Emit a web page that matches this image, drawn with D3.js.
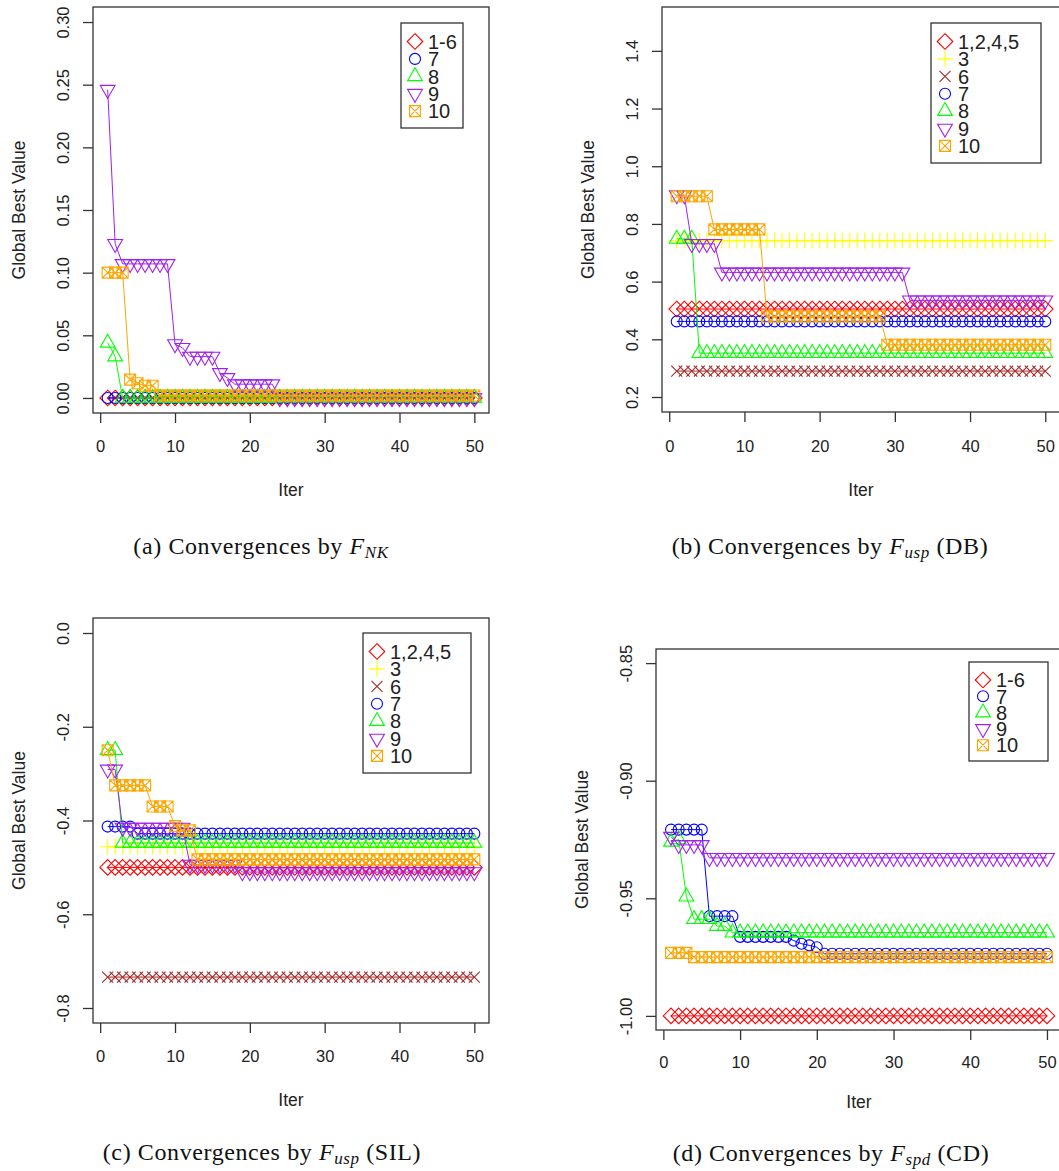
<!DOCTYPE html>
<html>
<head>
<meta charset="utf-8">
<script src="https://cdn.jsdelivr.net/npm/d3@7"></script>
<style>
  html, body { margin: 0; padding: 0; background: #fff; }
  svg { display: block; }
</style>
</head>
<body>
<svg id="fig" width="1059" height="1171"></svg>
<script>
// ---------------------------------------------------------------
// Data: global best value per iteration (1..50) for each strategy
// ---------------------------------------------------------------
const iters = d3.range(1, 51);
const xTicks = [0, 10, 20, 30, 40, 50];

// (a) F_NK
const nk_1to6 = [
  0,0,0,0,0,0,0,0,0,0, 0,0,0,0,0,0,0,0,0,0, 0,0,0,0,0,0,0,0,0,0,
  0,0,0,0,0,0,0,0,0,0, 0,0,0,0,0,0,0,0,0,0];
const nk_7 = [
  0,0,0,0,0,0,0,0,0,0, 0,0,0,0,0,0,0,0,0,0, 0,0,0,0,0,0,0,0,0,0,
  0,0,0,0,0,0,0,0,0,0, 0,0,0,0,0,0,0,0,0,0];
const nk_8 = [
  0.044,0.033,0,0,0,0,0,0,0,0, 0,0,0,0,0,0,0,0,0,0, 0,0,0,0,0,0,0,0,0,0,
  0,0,0,0,0,0,0,0,0,0, 0,0,0,0,0,0,0,0,0,0];
const nk_9 = [
  0.246,0.123,0.107,0.107,0.107,0.107,0.107,0.107,0.107,0.043,
  0.040,0.033,0.033,0.033,0.033,0.020,0.016,0.011,0.011,0.011,
  0.011,0.011,0.011,0,0,0,0,0,0,0,
  0,0,0,0,0,0,0,0,0,0, 0,0,0,0,0,0,0,0,0,0];
const nk_10 = [
  0.100,0.100,0.100,0.0146,0.0117,0.0098,0.0098,0.002,0.002,0.002,
  0.002,0.002,0.002,0.002,0.002,0.002,0.002,0.002,0.002,0.002,
  0.002,0.002,0.002,0.002,0.002,0.002,0.002,0.002,0.002,0.002,
  0.002,0.002,0.002,0.002,0.002,0.002,0.002,0.002,0.002,0.002,
  0.002,0.002,0.002,0.002,0.002,0.002,0.002,0.002,0.002,0.002];
const nkTicks = [0, 0.05, 0.10, 0.15, 0.20, 0.25, 0.30];

// (b) F_usp (DB)
const db_1245 = [
  0.505,0.505,0.505,0.505,0.505,0.505,0.505,0.505,0.505,0.505,
  0.505,0.505,0.505,0.505,0.505,0.505,0.505,0.505,0.505,0.505,
  0.505,0.505,0.505,0.505,0.505,0.505,0.505,0.505,0.505,0.505,
  0.505,0.505,0.505,0.505,0.505,0.505,0.505,0.505,0.505,0.505,
  0.505,0.505,0.505,0.505,0.505,0.505,0.505,0.505,0.505,0.505];
const db_3 = [
  0.742,0.742,0.742,0.742,0.742,0.742,0.742,0.742,0.742,0.742,
  0.742,0.742,0.742,0.742,0.742,0.742,0.742,0.742,0.742,0.742,
  0.742,0.742,0.742,0.742,0.742,0.742,0.742,0.742,0.742,0.742,
  0.742,0.742,0.742,0.742,0.742,0.742,0.742,0.742,0.742,0.742,
  0.742,0.742,0.742,0.742,0.742,0.742,0.742,0.742,0.742,0.742];
const db_6 = [
  0.290,0.290,0.290,0.290,0.290,0.290,0.290,0.290,0.290,0.290,
  0.290,0.290,0.290,0.290,0.290,0.290,0.290,0.290,0.290,0.290,
  0.290,0.290,0.290,0.290,0.290,0.290,0.290,0.290,0.290,0.290,
  0.290,0.290,0.290,0.290,0.290,0.290,0.290,0.290,0.290,0.290,
  0.290,0.290,0.290,0.290,0.290,0.290,0.290,0.290,0.290,0.290];
const db_7 = [
  0.462,0.462,0.462,0.462,0.462,0.462,0.462,0.462,0.462,0.462,
  0.462,0.462,0.462,0.462,0.462,0.462,0.462,0.462,0.462,0.462,
  0.462,0.462,0.462,0.462,0.462,0.462,0.462,0.462,0.462,0.462,
  0.462,0.462,0.462,0.462,0.462,0.462,0.462,0.462,0.462,0.462,
  0.462,0.462,0.462,0.462,0.462,0.462,0.462,0.462,0.462,0.462];
const db_8 = [
  0.748,0.748,0.748,0.352,0.352,0.352,0.352,0.352,0.352,0.352,
  0.352,0.352,0.352,0.352,0.352,0.352,0.352,0.352,0.352,0.352,
  0.352,0.352,0.352,0.352,0.352,0.352,0.352,0.352,0.352,0.352,
  0.352,0.352,0.352,0.352,0.352,0.352,0.352,0.352,0.352,0.352,
  0.352,0.352,0.352,0.352,0.352,0.352,0.352,0.352,0.352,0.352];
const db_9 = [
  0.900,0.900,0.731,0.731,0.731,0.731,0.632,0.632,0.632,0.632,
  0.632,0.632,0.632,0.632,0.632,0.632,0.632,0.632,0.632,0.632,
  0.632,0.632,0.632,0.632,0.632,0.632,0.632,0.632,0.632,0.632,
  0.632,0.535,0.535,0.535,0.535,0.535,0.535,0.535,0.535,0.535,
  0.535,0.535,0.535,0.535,0.535,0.535,0.535,0.535,0.535,0.535];
const db_10 = [
  0.896,0.896,0.896,0.896,0.896,0.781,0.781,0.781,0.781,0.781,
  0.781,0.781,0.479,0.479,0.479,0.479,0.479,0.479,0.479,0.479,
  0.479,0.479,0.479,0.479,0.479,0.479,0.479,0.479,0.381,0.381,
  0.381,0.381,0.381,0.381,0.381,0.381,0.381,0.381,0.381,0.381,
  0.381,0.381,0.381,0.381,0.381,0.381,0.381,0.381,0.381,0.381];
const dbTicks = [0.2, 0.4, 0.6, 0.8, 1.0, 1.2, 1.4];

// (c) F_usp (SIL)
const sil_1245 = [
  -0.500,-0.500,-0.500,-0.500,-0.500,-0.500,-0.500,-0.500,-0.500,-0.500,
  -0.500,-0.500,-0.500,-0.500,-0.500,-0.500,-0.500,-0.500,-0.500,-0.500,
  -0.500,-0.500,-0.500,-0.500,-0.500,-0.500,-0.500,-0.500,-0.500,-0.500,
  -0.500,-0.500,-0.500,-0.500,-0.500,-0.500,-0.500,-0.500,-0.500,-0.500,
  -0.500,-0.500,-0.500,-0.500,-0.500,-0.500,-0.500,-0.500,-0.500,-0.500];
const sil_3 = [
  -0.456,-0.456,-0.456,-0.456,-0.456,-0.456,-0.456,-0.456,-0.456,-0.456,
  -0.456,-0.456,-0.456,-0.456,-0.456,-0.456,-0.456,-0.456,-0.456,-0.456,
  -0.456,-0.456,-0.456,-0.456,-0.456,-0.456,-0.456,-0.456,-0.456,-0.456,
  -0.456,-0.456,-0.456,-0.456,-0.456,-0.456,-0.456,-0.456,-0.456,-0.456,
  -0.456,-0.456,-0.456,-0.456,-0.456,-0.456,-0.456,-0.456,-0.456,-0.456];
const sil_6 = [
  -0.734,-0.734,-0.734,-0.734,-0.734,-0.734,-0.734,-0.734,-0.734,-0.734,
  -0.734,-0.734,-0.734,-0.734,-0.734,-0.734,-0.734,-0.734,-0.734,-0.734,
  -0.734,-0.734,-0.734,-0.734,-0.734,-0.734,-0.734,-0.734,-0.734,-0.734,
  -0.734,-0.734,-0.734,-0.734,-0.734,-0.734,-0.734,-0.734,-0.734,-0.734,
  -0.734,-0.734,-0.734,-0.734,-0.734,-0.734,-0.734,-0.734,-0.734,-0.734];
const sil_7 = [
  -0.413,-0.413,-0.413,-0.413,-0.428,-0.428,-0.428,-0.428,-0.428,-0.428,
  -0.428,-0.428,-0.428,-0.428,-0.428,-0.428,-0.428,-0.428,-0.428,-0.428,
  -0.428,-0.428,-0.428,-0.428,-0.428,-0.428,-0.428,-0.428,-0.428,-0.428,
  -0.428,-0.428,-0.428,-0.428,-0.428,-0.428,-0.428,-0.428,-0.428,-0.428,
  -0.428,-0.428,-0.428,-0.428,-0.428,-0.428,-0.428,-0.428,-0.428,-0.428];
const sil_8 = [
  -0.250,-0.250,-0.448,-0.448,-0.448,-0.448,-0.448,-0.448,-0.448,-0.448,
  -0.448,-0.448,-0.448,-0.448,-0.448,-0.448,-0.448,-0.448,-0.448,-0.448,
  -0.448,-0.448,-0.448,-0.448,-0.448,-0.448,-0.448,-0.448,-0.448,-0.448,
  -0.448,-0.448,-0.448,-0.448,-0.448,-0.448,-0.448,-0.448,-0.448,-0.448,
  -0.448,-0.448,-0.448,-0.448,-0.448,-0.448,-0.448,-0.448,-0.448,-0.448];
const sil_9 = [
  -0.291,-0.291,-0.415,-0.415,-0.415,-0.415,-0.415,-0.415,-0.415,-0.415,
  -0.415,-0.494,-0.494,-0.494,-0.494,-0.494,-0.494,-0.494,-0.510,-0.510,
  -0.510,-0.510,-0.510,-0.510,-0.510,-0.510,-0.510,-0.510,-0.510,-0.510,
  -0.510,-0.510,-0.510,-0.510,-0.510,-0.510,-0.510,-0.510,-0.510,-0.510,
  -0.510,-0.510,-0.510,-0.510,-0.510,-0.510,-0.510,-0.510,-0.510,-0.510];
const sil_10 = [
  -0.250,-0.325,-0.325,-0.325,-0.325,-0.325,-0.370,-0.370,-0.370,-0.412,
  -0.421,-0.421,-0.483,-0.483,-0.483,-0.483,-0.483,-0.483,-0.483,-0.483,
  -0.483,-0.483,-0.483,-0.483,-0.483,-0.483,-0.483,-0.483,-0.483,-0.483,
  -0.483,-0.483,-0.483,-0.483,-0.483,-0.483,-0.483,-0.483,-0.483,-0.483,
  -0.483,-0.483,-0.483,-0.483,-0.483,-0.483,-0.483,-0.483,-0.483,-0.483];
const silTicks = [-0.8, -0.6, -0.4, -0.2, 0.0];

// (d) F_spd (CD)
const cd_1to6 = [
  -1.000,-1.000,-1.000,-1.000,-1.000,-1.000,-1.000,-1.000,-1.000,-1.000,
  -1.000,-1.000,-1.000,-1.000,-1.000,-1.000,-1.000,-1.000,-1.000,-1.000,
  -1.000,-1.000,-1.000,-1.000,-1.000,-1.000,-1.000,-1.000,-1.000,-1.000,
  -1.000,-1.000,-1.000,-1.000,-1.000,-1.000,-1.000,-1.000,-1.000,-1.000,
  -1.000,-1.000,-1.000,-1.000,-1.000,-1.000,-1.000,-1.000,-1.000,-1.000];
const cd_7 = [
  -0.9208,-0.9208,-0.9208,-0.9208,-0.9208,-0.9576,-0.9576,-0.9576,-0.9576,-0.9664,
  -0.9664,-0.9664,-0.9664,-0.9664,-0.9664,-0.9664,-0.9680,-0.9693,-0.9700,-0.9708,
  -0.9736,-0.9736,-0.9736,-0.9736,-0.9736,-0.9736,-0.9736,-0.9736,-0.9736,-0.9736,
  -0.9736,-0.9736,-0.9736,-0.9736,-0.9736,-0.9736,-0.9736,-0.9736,-0.9736,-0.9736,
  -0.9736,-0.9736,-0.9736,-0.9736,-0.9736,-0.9736,-0.9736,-0.9736,-0.9736,-0.9736];
const cd_8 = [
  -0.9260,-0.9250,-0.9493,-0.9589,-0.9589,-0.9589,-0.9618,-0.9618,-0.9646,-0.9646,
  -0.9646,-0.9646,-0.9646,-0.9646,-0.9646,-0.9646,-0.9646,-0.9646,-0.9646,-0.9646,
  -0.9646,-0.9646,-0.9646,-0.9646,-0.9646,-0.9646,-0.9646,-0.9646,-0.9646,-0.9646,
  -0.9646,-0.9646,-0.9646,-0.9646,-0.9646,-0.9646,-0.9646,-0.9646,-0.9646,-0.9646,
  -0.9646,-0.9646,-0.9646,-0.9646,-0.9646,-0.9646,-0.9646,-0.9646,-0.9646,-0.9646];
const cd_9 = [
  -0.9238,-0.9273,-0.9273,-0.9273,-0.9273,-0.9328,-0.9328,-0.9328,-0.9328,-0.9328,
  -0.9328,-0.9328,-0.9328,-0.9328,-0.9328,-0.9328,-0.9328,-0.9328,-0.9328,-0.9328,
  -0.9328,-0.9328,-0.9328,-0.9328,-0.9328,-0.9328,-0.9328,-0.9328,-0.9328,-0.9328,
  -0.9328,-0.9328,-0.9328,-0.9328,-0.9328,-0.9328,-0.9328,-0.9328,-0.9328,-0.9328,
  -0.9328,-0.9328,-0.9328,-0.9328,-0.9328,-0.9328,-0.9328,-0.9328,-0.9328,-0.9328];
const cd_10 = [
  -0.9732,-0.9732,-0.9732,-0.9750,-0.9750,-0.9750,-0.9750,-0.9750,-0.9750,-0.9750,
  -0.9750,-0.9750,-0.9750,-0.9750,-0.9750,-0.9750,-0.9750,-0.9750,-0.9750,-0.9750,
  -0.9750,-0.9750,-0.9750,-0.9750,-0.9750,-0.9750,-0.9750,-0.9750,-0.9750,-0.9750,
  -0.9750,-0.9750,-0.9750,-0.9750,-0.9750,-0.9750,-0.9750,-0.9750,-0.9750,-0.9750,
  -0.9750,-0.9750,-0.9750,-0.9750,-0.9750,-0.9750,-0.9750,-0.9750,-0.9750,-0.9750];
const cdTicks = [-1.00, -0.95, -0.90, -0.85];

// ---------------------------------------------------------------
// Styling: R-like colours and plotting symbols
// ---------------------------------------------------------------
const COL = {
  red: "#ff0000", yellow: "#ffff00", brown: "#a52a2a", blue: "#0000ff",
  green: "#00ff00", purple: "#a020f0", orange: "#ffa500"
};
const SYM = {
  diamond: "M0,-7.8L7.8,0L0,7.8L-7.8,0Z",
  plus: "M-7.8,0H7.8M0,-7.8V7.8",
  cross: "M-5.5,-5.5L5.5,5.5M-5.5,5.5L5.5,-5.5",
  circle: "M-5.5,0A5.5,5.5 0 1,0 5.5,0A5.5,5.5 0 1,0 -5.5,0Z",
  triUp: "M0,-8.6L7.4,4.3L-7.4,4.3Z",
  triDown: "M0,8.6L7.4,-4.3L-7.4,-4.3Z",
  boxX: "M-5.5,-5.5H5.5V5.5H-5.5ZM-5.5,-5.5L5.5,5.5M-5.5,5.5L5.5,-5.5"
};
const SANS = "'Liberation Sans', Arial, Helvetica, sans-serif";
const SERIF = "'Liberation Serif', 'Times New Roman', serif";
const INK = "#222";
const FRAME = "#333";

const s = (label, values, color, sym) => ({ label, values, color, sym });

const panels = [
  {
    box: { l: 93, t: 7, r: 489, b: 413 }, tickGap: 39, titleGap: 83,
    ylim: [0, 0.3], yTicks: nkTicks, digits: 2,
    series: [
      s("1-6", nk_1to6, COL.red, SYM.diamond),
      s("7", nk_7, COL.blue, SYM.circle),
      s("8", nk_8, COL.green, SYM.triUp),
      s("9", nk_9, COL.purple, SYM.triDown),
      s("10", nk_10, COL.orange, SYM.boxX)
    ],
    legend: { x: 401, y: 23, w: 62, h: 105, first: 18.5, step: 17.4 },
    caption: { x: 261, y: 554, lead: "(a) Convergences by ", sub: "NK", tail: "" }
  },
  {
    box: { l: 662, t: 7, r: 1060, b: 412 }, tickGap: 40, titleGap: 84,
    ylim: [0.2, 1.5], yTicks: dbTicks, digits: 1,
    series: [
      s("1,2,4,5", db_1245, COL.red, SYM.diamond),
      s("3", db_3, COL.yellow, SYM.plus),
      s("6", db_6, COL.brown, SYM.cross),
      s("7", db_7, COL.blue, SYM.circle),
      s("8", db_8, COL.green, SYM.triUp),
      s("9", db_9, COL.purple, SYM.triDown),
      s("10", db_10, COL.orange, SYM.boxX)
    ],
    legend: { x: 931, y: 23, w: 110, h: 140, first: 18.5, step: 17.4 },
    caption: { x: 830, y: 554, lead: "(b) Convergences by ", sub: "usp", tail: " (DB)" }
  },
  {
    box: { l: 93, t: 618, r: 489, b: 1023 }, tickGap: 39, titleGap: 83,
    ylim: [-0.8, 0], yTicks: silTicks, digits: 1,
    series: [
      s("1,2,4,5", sil_1245, COL.red, SYM.diamond),
      s("3", sil_3, COL.yellow, SYM.plus),
      s("6", sil_6, COL.brown, SYM.cross),
      s("7", sil_7, COL.blue, SYM.circle),
      s("8", sil_8, COL.green, SYM.triUp),
      s("9", sil_9, COL.purple, SYM.triDown),
      s("10", sil_10, COL.orange, SYM.boxX)
    ],
    legend: { x: 363, y: 633, w: 108, h: 140, first: 18.5, step: 17.4 },
    caption: { x: 262, y: 1160, lead: "(c) Convergences by ", sub: "usp", tail: " (SIL)" }
  },
  {
    box: { l: 656, t: 649, r: 1062, b: 1030 }, tickGap: 37.5, titleGap: 78,
    ylim: [-1, -0.85], yTicks: cdTicks, digits: 2,
    series: [
      s("1-6", cd_1to6, COL.red, SYM.diamond),
      s("7", cd_7, COL.blue, SYM.circle),
      s("8", cd_8, COL.green, SYM.triUp),
      s("9", cd_9, COL.purple, SYM.triDown),
      s("10", cd_10, COL.orange, SYM.boxX)
    ],
    legend: { x: 969, y: 662, w: 79, h: 99, first: 18, step: 16.3 },
    caption: { x: 831, y: 1161, lead: "(d) Convergences by ", sub: "spd", tail: " (CD)" }
  }
];

// ---------------------------------------------------------------
// Drawing
// ---------------------------------------------------------------
const svg = d3.select("#fig");
svg.append("rect").attr("width", 1059).attr("height", 1171).attr("fill", "#fff");

// R extends axis limits by 4% on each side
const pad = (lo, hi) => { const e = (hi - lo) * 0.04; return [lo - e, hi + e]; };

panels.forEach(p => {
  const g = svg.append("g");
  const { l, t, r, b } = p.box;

  const x = d3.scaleLinear().domain(pad(1, 50)).range([l, r]);
  const y = d3.scaleLinear().domain(pad(p.ylim[0], p.ylim[1])).range([b, t]);

  // series: connecting line, then symbols on top
  const line = d3.line().x((d, i) => x(iters[i])).y(d => y(d));
  p.series.forEach(se => {
    const sg = g.append("g");
    sg.append("path")
      .attr("d", line(se.values))
      .attr("fill", "none")
      .attr("stroke", se.color)
      .attr("stroke-width", 1);
    sg.selectAll("path.pt")
      .data(se.values)
      .join("path")
      .attr("class", "pt")
      .attr("d", se.sym)
      .attr("transform", (d, i) => `translate(${x(iters[i])},${y(d)})`)
      .attr("fill", "none")
      .attr("stroke", se.color)
      .attr("stroke-width", 1.1);
  });

  // plot frame
  g.append("rect")
    .attr("x", l).attr("y", t)
    .attr("width", r - l).attr("height", b - t)
    .attr("fill", "none").attr("stroke", FRAME).attr("stroke-width", 1.3);

  // x axis
  const gx = g.append("g")
    .attr("transform", `translate(0,${b})`)
    .call(d3.axisBottom(x).tickValues(xTicks).tickSize(10).tickSizeOuter(0).tickFormat(d3.format("d")));
  gx.select(".domain").remove();
  gx.attr("font-family", SANS).attr("font-size", 16.5);
  gx.selectAll(".tick line").attr("stroke", FRAME).attr("stroke-width", 1.3);
  gx.selectAll(".tick text").attr("y", p.tickGap).attr("dy", null).attr("fill", INK);

  // y axis, labels parallel to the axis as in base R
  const gy = g.append("g")
    .attr("transform", `translate(${l},0)`)
    .call(d3.axisLeft(y).tickValues(p.yTicks).tickSize(10).tickSizeOuter(0)
      .tickFormat(v => v.toFixed(p.digits)));
  gy.select(".domain").remove();
  gy.attr("font-family", SANS).attr("font-size", 16.5);
  gy.selectAll(".tick line").attr("stroke", FRAME).attr("stroke-width", 1.3);
  gy.selectAll(".tick text")
    .attr("transform", "rotate(-90)")
    .attr("x", 0).attr("y", -24.5).attr("dy", null)
    .attr("text-anchor", "middle").attr("fill", INK);

  // axis titles
  g.append("text")
    .attr("x", (l + r) / 2).attr("y", b + p.titleGap)
    .attr("text-anchor", "middle")
    .attr("font-family", SANS).attr("font-size", 17.5).attr("fill", INK)
    .text("Iter");
  g.append("text")
    .attr("transform", `translate(${l - 68.5},${(t + b) / 2}) rotate(-90)`)
    .attr("text-anchor", "middle")
    .attr("font-family", SANS).attr("font-size", 17.5).attr("fill", INK)
    .text("Global Best Value");

  // legend
  const lg = p.legend;
  const gl = g.append("g");
  gl.append("rect")
    .attr("x", lg.x).attr("y", lg.y).attr("width", lg.w).attr("height", lg.h)
    .attr("fill", "#fff").attr("stroke", FRAME).attr("stroke-width", 1.3);
  p.series.forEach((se, i) => {
    const cy = lg.y + lg.first + i * lg.step;
    gl.append("path")
      .attr("d", se.sym)
      .attr("transform", `translate(${lg.x + 14},${cy})`)
      .attr("fill", "none").attr("stroke", se.color).attr("stroke-width", 1.1);
    gl.append("text")
      .attr("x", lg.x + 27).attr("y", cy + 7.2)
      .attr("font-family", SANS).attr("font-size", 20).attr("fill", INK)
      .text(se.label);
  });

  // caption
  const c = p.caption;
  const ct = svg.append("text")
    .attr("x", c.x).attr("y", c.y)
    .attr("text-anchor", "middle")
    .attr("font-family", SERIF).attr("font-size", 24)
    .attr("letter-spacing", 0.6).attr("fill", "#111");
  ct.append("tspan").text(c.lead);
  ct.append("tspan").attr("font-style", "italic").text("F");
  ct.append("tspan").attr("font-style", "italic").attr("font-size", 17)
    .attr("dy", 4).text(c.sub);
  if (c.tail) ct.append("tspan").attr("dy", -4).text(c.tail);
});
</script>
</body>
</html>
